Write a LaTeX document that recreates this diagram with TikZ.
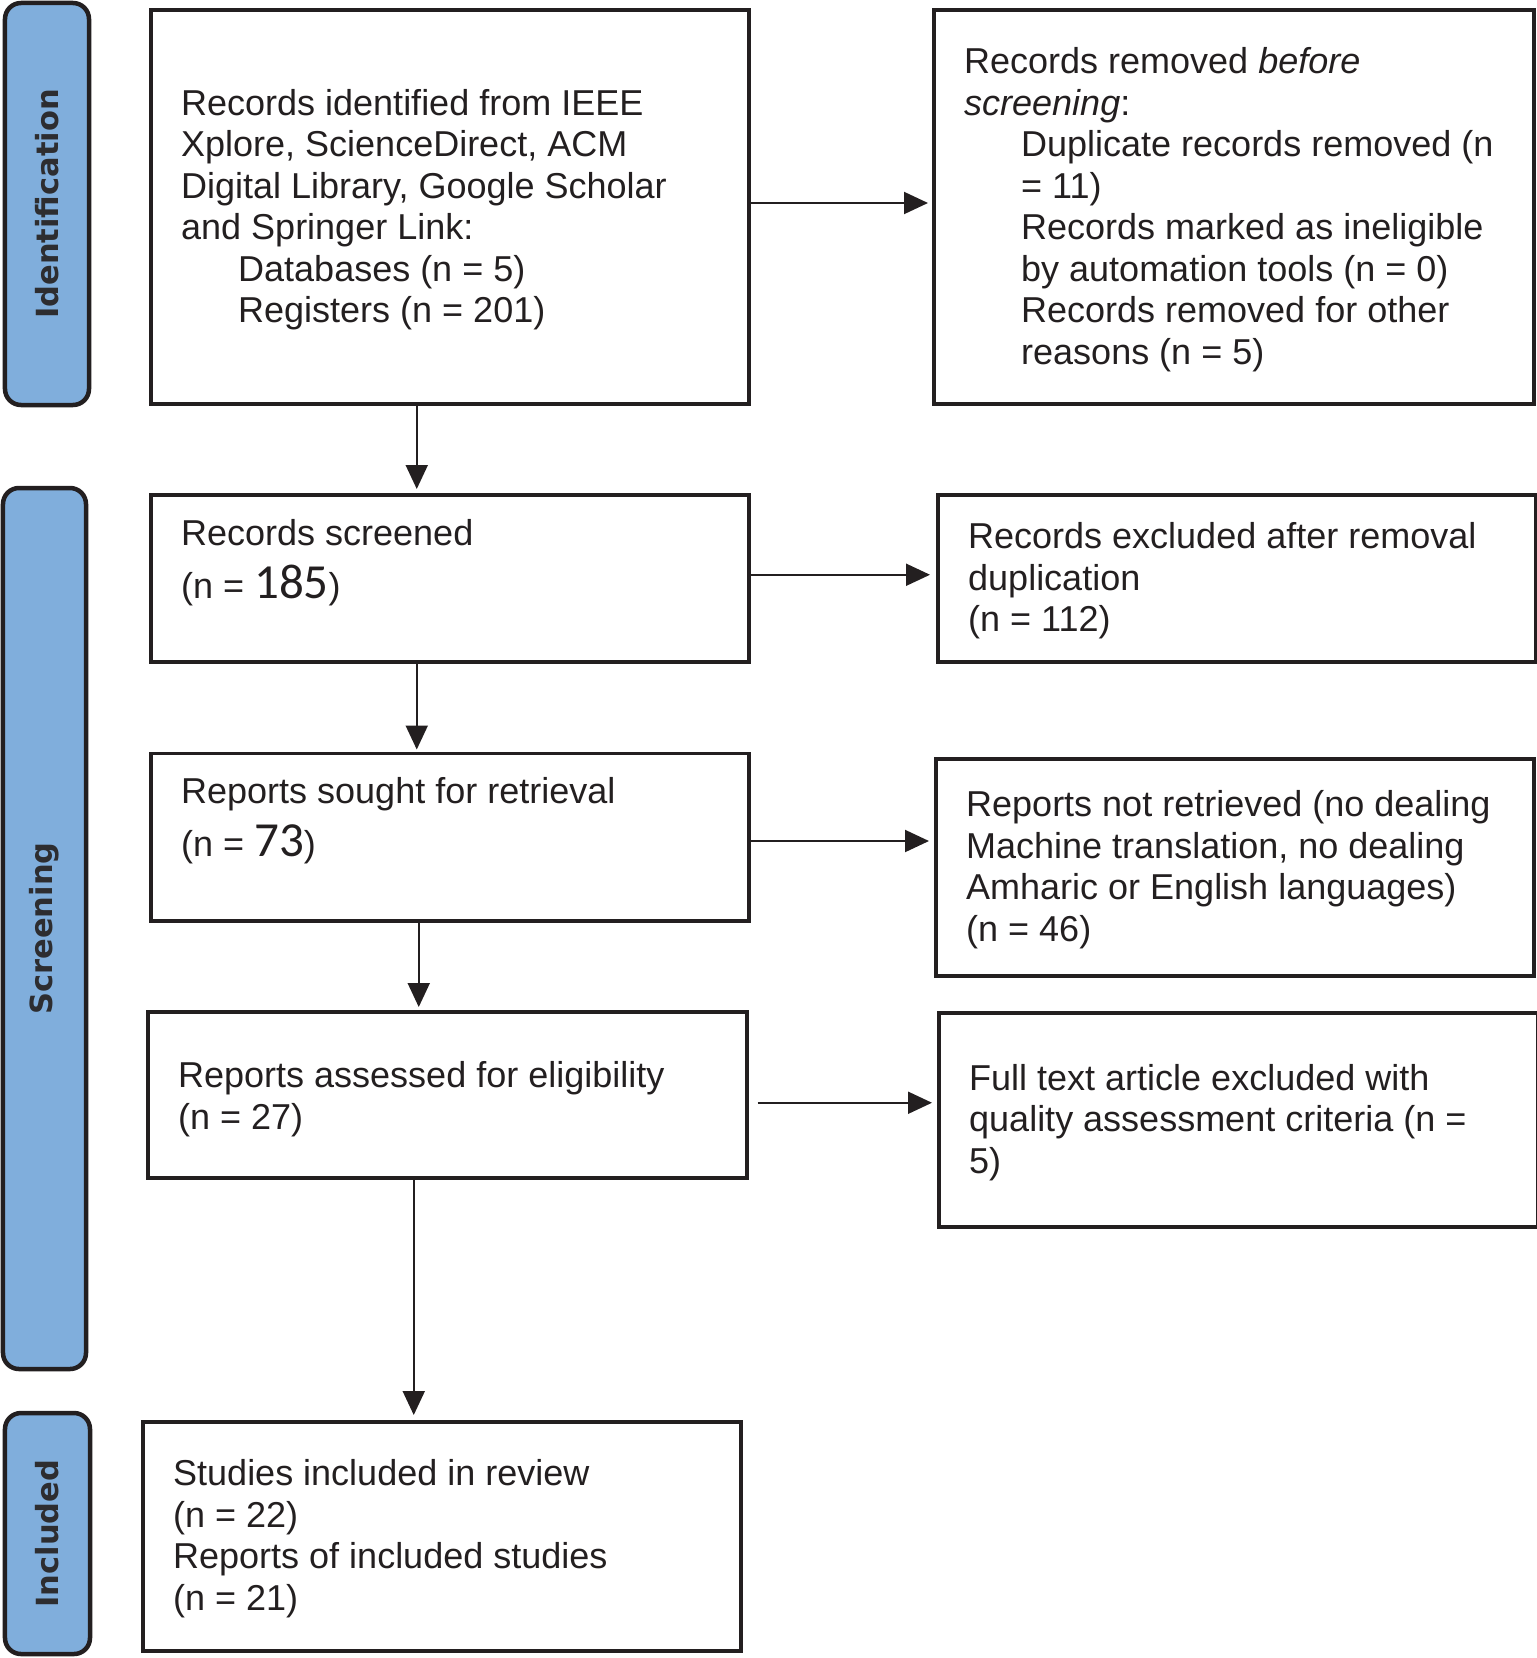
\documentclass[tikz,border=0pt]{standalone}
\usepackage{fontspec}
\setmainfont{Liberation Sans}
\newfontfamily\carlitofont{Carlito}
\newfontfamily\barfont{DejaVu Sans}
\usetikzlibrary{arrows.meta}
\definecolor{ink}{RGB}{35,31,32}
\definecolor{barblue}{RGB}{128,174,220}
\definecolor{bartext}{RGB}{45,45,48}
\begin{document}
\begin{tikzpicture}[x=1bp,y=-1bp,
 flowbox/.style={draw=ink, line width=3.5bp, inner sep=0pt, anchor=north west},
 boxtext/.style={inner sep=0pt, anchor=west, yshift=-2.5bp, align=left, text=ink, font=\fontsize{36bp}{41.5bp}\selectfont},
 stagebar/.style={draw=ink, line width=4.5bp, fill=barblue, rounded corners=16bp, rotate=90, inner sep=0pt, text=bartext, font=\barfont\bfseries\fontsize{30.5bp}{36bp}\selectfont},
 arr/.style={draw=ink, line width=2bp, -{Triangle[length=24bp,width=22bp]}}]
\useasboundingbox (0,0) rectangle (1537,1658);

% stage bars
\node[stagebar, minimum width=402bp, minimum height=84bp] (s1) at (47,204) {Identification};
\node[stagebar, minimum width=881bp, minimum height=83bp] (s2) at (44.5,928.5) {Screening};
\node[stagebar, minimum width=241bp, minimum height=85bp] (s3) at (47.5,1533.5) {Included};

% boxes
\node[flowbox, minimum width=598bp, minimum height=393.5bp] (b1) at (149,8.5) {};
\node[flowbox, minimum width=600bp, minimum height=393.5bp] (b2) at (932,8.5) {};
\node[flowbox, minimum width=598bp, minimum height=167bp] (b3) at (149,493) {};
\node[flowbox, minimum width=598bp, minimum height=167bp] (b4) at (936,493) {};
\node[flowbox, minimum width=598bp, minimum height=167.5bp] (b5) at (149,751.5) {};
\node[flowbox, minimum width=598bp, minimum height=217bp] (b6) at (934,757) {};
\node[flowbox, minimum width=599bp, minimum height=166bp] (b7) at (146,1010) {};
\node[flowbox, minimum width=599bp, minimum height=214bp] (b8) at (937,1011) {};
\node[flowbox, minimum width=598bp, minimum height=229bp] (b9) at (141,1420) {};

% texts
\node[boxtext] (t1) at ([xshift=32bp]b1.west) {Records identified from IEEE\\Xplore, ScienceDirect, ACM\\Digital Library, Google Scholar\\and Springer Link:\\\hspace*{57bp}Databases (n = 5)\\\hspace*{57bp}Registers (n = 201)};
\node[boxtext] (t2) at ([xshift=32bp]b2.west) {Records removed \textit{before}\\\textit{screening}:\\\hspace*{57bp}Duplicate records removed (n\\\hspace*{57bp}= 11)\\\hspace*{57bp}Records marked as ineligible\\\hspace*{57bp}by automation tools (n = 0)\\\hspace*{57bp}Records removed for other\\\hspace*{57bp}reasons (n = 5)};
\node[boxtext] (t3) at ([xshift=32bp,yshift=18bp]b3.west) {Records screened\\[12bp](n = {\carlitofont\fontsize{49bp}{49bp}\selectfont 185})};
\node[boxtext] (t4) at ([xshift=32bp]b4.west) {Records excluded after removal\\duplication\\(n = 112)};
\node[boxtext] (t5) at ([xshift=32bp,yshift=19bp]b5.west) {Reports sought for retrieval\\[12bp](n = {\carlitofont\fontsize{49bp}{49bp}\selectfont 73})};
\node[boxtext] (t6) at ([xshift=32bp]b6.west) {Reports not retrieved (no dealing\\Machine translation, no dealing\\Amharic or English languages)\\(n = 46)};
\node[boxtext] (t7) at ([xshift=32bp,yshift=-2bp]b7.west) {Reports assessed for eligibility\\(n = 27)};
\node[boxtext] (t8) at ([xshift=32bp]b8.west) {Full text article excluded with\\quality assessment criteria (n =\\5)};
\node[boxtext] (t9) at ([xshift=32bp]b9.west) {Studies included in review\\(n = 22)\\Reports of included studies\\(n = 21)};

% connectors
\draw[arr, shorten >=4bp] ([yshift=4bp]b1.east) -- ([yshift=4bp]b1.east -| b2.west);
\draw[arr, shorten >=4bp] ([xshift=-33bp]b1.south) -- ([xshift=-33bp]b1.south |- b3.north);
\draw[arr, shorten >=6bp] ([yshift=3.5bp]b3.east) -- ([yshift=3.5bp]b3.east -| b4.west);
\draw[arr, shorten >=2bp] ([xshift=-33bp]b3.south) -- ([xshift=-33bp]b3.south |- b5.north);
\draw[arr, shorten >=5bp] ([yshift=-4bp]b5.east) -- ([yshift=-4bp]b5.east -| b6.west);
\draw[arr, shorten >=3bp] ([xshift=-31bp]b5.south) -- ([xshift=-31bp]b5.south |- b7.north);
\draw[arr, shorten <=9bp, shorten >=5bp] ([yshift=-8bp]b7.east) -- ([yshift=-8bp]b7.east -| b8.west);
\draw[arr, shorten >=5bp] ([xshift=-33.5bp]b7.south) -- ([xshift=-33.5bp]b7.south |- b9.north);
\end{tikzpicture}
\end{document}
